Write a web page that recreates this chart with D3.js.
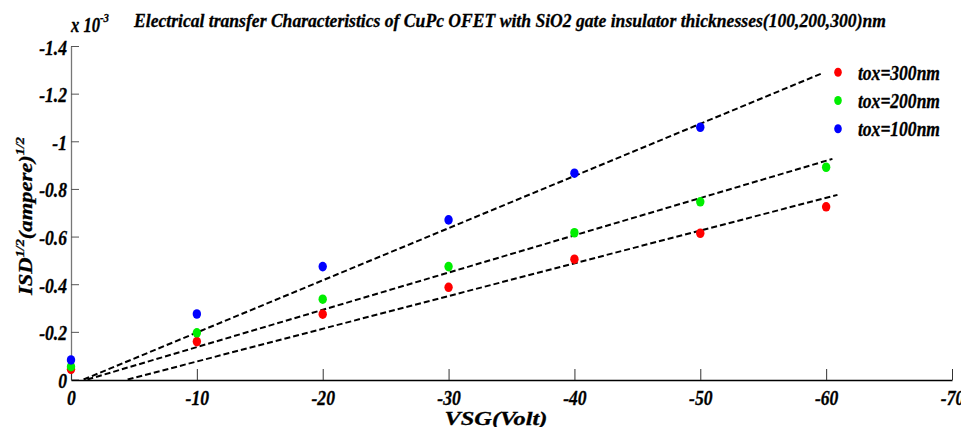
<!DOCTYPE html>
<html>
<head>
<meta charset="utf-8">
<script src="https://cdn.jsdelivr.net/npm/d3@7"></script>
<style>
  body { margin: 0; background: #fff; }
  text { font-family: "Liberation Serif", "Times New Roman", serif; font-weight: bold; font-style: italic; stroke: #000; stroke-width: 0.3px; }
</style>
</head>
<body>
<div id="container"></div>
<script>
let w = 961;
let h = 427;

// values, y in units of 10^-3 (ampere)^1/2
let vsg = [0, -10, -20, -30, -40, -50, -60];
let isd300 = [-0.043, -0.159, -0.274, -0.387, -0.505, -0.614, -0.725];
let isd200 = [-0.054, -0.196, -0.337, -0.474, -0.616, -0.746, -0.891];
let isd100 = [-0.082, -0.275, -0.474, -0.670, -0.866, -1.059];

// dashed fit lines: [start, end] as [vsg, isd]
let fit300 = [[-4.5, 0], [-60.9, -0.775]];
let fit200 = [[-1.3, 0], [-60.5, -0.926]];
let fit100 = [[-1.0, 0], [-59.7, -1.286]];

let seriesNames = ["tox=300nm", "tox=200nm", "tox=100nm"];
let seriesColors = ["#ff0000", "#00ee00", "#0000ff"];

let xTicks = [0, -10, -20, -30, -40, -50, -60, -70];
let yTicks = [0, -0.2, -0.4, -0.6, -0.8, -1, -1.2, -1.4];
let yTickLabels = ["0", "-0.2", "-0.4", "-0.6", "-0.8", "-1", "-1.2", "-1.4"];

let viz = d3.select("#container")
  .append("svg")
    .attr("width", w)
    .attr("height", h)
;

// squeeze text sideways like the original (tall narrow glyphs)
function condense(sel, f){
  sel.each(function(){
    let len = this.getComputedTextLength();
    d3.select(this).attr("textLength", len * f).attr("lengthAdjust", "spacingAndGlyphs");
  });
}

let xScale = d3.scaleLinear().domain([0, -70]).range([71, 952]);
let yScale = d3.scaleLinear().domain([0, -1.4]).range([379.5, 46]);

// y axis
let yAxis = d3.axisLeft(yScale)
  .tickValues(yTicks)
  .tickSizeInner(-8)
  .tickSizeOuter(0)
  .tickPadding(4)
  .tickFormat(function(d, i){ return yTickLabels[i]; });
let yAxisGroup = viz.append("g").attr("class", "yaxis")
  .attr("transform", "translate(71,0)")
  .call(yAxis);
yAxisGroup.select(".domain").attr("stroke", "#777").attr("stroke-width", 1.3);
yAxisGroup.selectAll(".tick line").attr("stroke", "#555");
yAxisGroup.selectAll("text")
  .attr("font-size", 20)
  .attr("font-family", null)
  .attr("fill", "#000")
  .attr("dy", "0.4em")
  .call(condense, 0.88);

// x axis
let xAxis = d3.axisBottom(xScale)
  .tickValues(xTicks)
  .tickSizeInner(-11)
  .tickSizeOuter(0)
  .tickPadding(9)
  .tickFormat(function(d){ return d === 0 ? "0" : String(d); });
let xAxisGroup = viz.append("g").attr("class", "xaxis")
  .attr("transform", "translate(0,380)")
  .call(xAxis);
xAxisGroup.select(".domain").attr("stroke", "#000").attr("stroke-width", 1.6);
xAxisGroup.selectAll(".tick line").attr("stroke", "#333");
xAxisGroup.selectAll("text")
  .attr("font-size", 20)
  .attr("font-family", null)
  .attr("fill", "#000")
  .attr("dy", "0.8em")
  .call(condense, 0.88);

// fit lines
let line = d3.line()
  .x(function(d){ return xScale(d[0]); })
  .y(function(d){ return yScale(d[1]); });

viz.append("g").attr("class", "fits")
  .selectAll("path")
  .data([fit300, fit200, fit100])
  .enter()
  .append("path")
    .attr("d", line)
    .attr("fill", "none")
    .attr("stroke", "#000")
    .attr("stroke-width", 2)
    .attr("stroke-dasharray", "6,3")
;

// points
let allSeries = [isd300, isd200, isd100];
let dots = viz.append("g").attr("class", "dots");
allSeries.forEach(function(vals, k){
  dots.selectAll(".s" + k)
    .data(vals)
    .enter()
    .append("ellipse")
      .attr("class", "s" + k)
      .attr("cx", function(d, i){ return xScale(vsg[i]); })
      .attr("cy", function(d){ return yScale(d); })
      .attr("rx", 4.2)
      .attr("ry", 4.8)
      .attr("fill", seriesColors[k])
  ;
});

// legend
let legend = viz.append("g").attr("class", "legend")
  .selectAll("g")
  .data(seriesNames)
  .enter()
  .append("g")
    .attr("transform", function(d, i){ return "translate(838," + (72.3 + i * 28.2) + ")"; });
legend.append("ellipse")
  .attr("rx", 3.8)
  .attr("ry", 4.5)
  .attr("fill", function(d, i){ return seriesColors[i]; });
legend.append("text")
  .attr("x", 20)
  .attr("y", 7.5)
  .attr("font-size", 20)
  .attr("textLength", 82)
  .attr("lengthAdjust", "spacingAndGlyphs")
  .text(function(d){ return d; });

// title
viz.append("text")
  .attr("x", 134)
  .attr("y", 27)
  .attr("font-size", 19)
  .attr("textLength", 752)
  .attr("lengthAdjust", "spacingAndGlyphs")
  .text("Electrical transfer Characteristics of CuPc OFET with  SiO2 gate insulator thicknesses(100,200,300)nm");

// exponent
let expo = viz.append("text")
  .attr("x", 71)
  .attr("y", 32)
  .attr("font-size", 20)
  .attr("textLength", 38)
  .attr("lengthAdjust", "spacingAndGlyphs");
expo.append("tspan").text("x 10");
expo.append("tspan").attr("dy", -10).attr("font-size", 13).text("-3");

// axis labels
viz.append("text")
  .attr("x", 496)
  .attr("y", 425)
  .attr("text-anchor", "middle")
  .attr("font-size", 19)
  .attr("textLength", 103)
  .attr("lengthAdjust", "spacingAndGlyphs")
  .text("VSG(Volt)");

let yLabel = viz.append("text")
  .attr("transform", "translate(32,216) rotate(-90)")
  .attr("text-anchor", "middle")
  .attr("font-size", 19)
  .attr("textLength", 158)
  .attr("lengthAdjust", "spacingAndGlyphs");
yLabel.append("tspan").text("ISD");
yLabel.append("tspan").attr("dy", -8).attr("font-size", 12).text("1/2");
yLabel.append("tspan").attr("dy", 8).text("(ampere)");
yLabel.append("tspan").attr("dy", -8).attr("font-size", 12).text("1/2");
</script>
</body>
</html>
